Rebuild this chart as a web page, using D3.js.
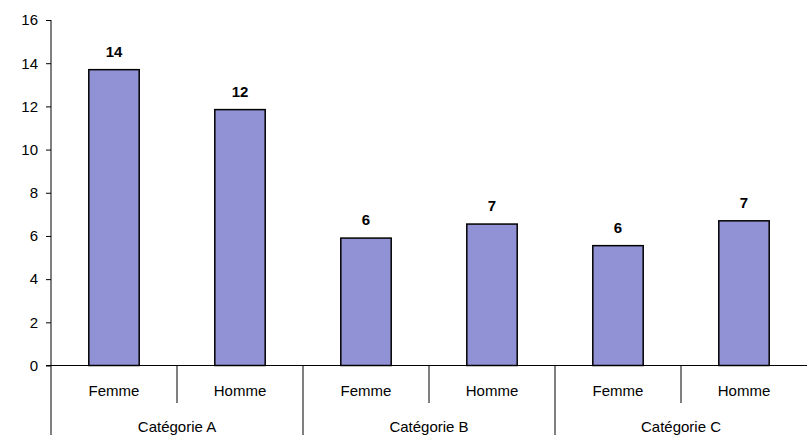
<!DOCTYPE html>
<html>
<head>
<meta charset="utf-8">
<script src="https://cdn.jsdelivr.net/npm/d3@7"></script>
<style>
  html, body { margin: 0; padding: 0; background: #fff; }
  svg { display: block; }
  text { font-family: Arial, "Liberation Sans", sans-serif; fill: #000; }
</style>
</head>
<body>
<svg id="chart" width="807" height="435"></svg>
<script>
// Groups, sub-categories and measured values
const groups = ["Catégorie A", "Catégorie B", "Catégorie C"];
const subCategories = ["Femme", "Homme"];
const values = [13.7, 11.85, 5.9, 6.55, 5.55, 6.7];
const yTicks = [0, 2, 4, 6, 8, 10, 12, 14, 16];

const W = 807, H = 435;
const plotLeft = 51, plotRight = 807, plotTop = 20, plotBottom = 365.5;
const fontSize = 15;

const svg = d3.select("#chart");

// One row per bar, built from the arrays above
const rows = [];
groups.forEach((g, gi) => subCategories.forEach((s, si) => {
  rows.push({ key: g + "|" + s, group: g, sub: s, value: values[gi * subCategories.length + si] });
}));

const x = d3.scaleBand().domain(rows.map(d => d.key)).range([plotLeft, plotRight]).padding(0);
const xg = d3.scaleBand().domain(groups).range([plotLeft, plotRight]).padding(0);
const y = d3.scaleLinear().domain([0, 16]).range([plotBottom, plotTop]);

const barW = x.bandwidth() * 0.4;

// Y axis
const yAxis = svg.append("g")
  .attr("transform", `translate(${plotLeft},0)`)
  .call(d3.axisLeft(y).tickValues(yTicks).tickSize(5).tickPadding(8).tickFormat(d3.format("d")));
yAxis.select(".domain").remove();
yAxis.selectAll(".tick line").attr("stroke", "#000");
yAxis.selectAll(".tick text").attr("font-size", fontSize).style("font-family", "Arial, 'Liberation Sans', sans-serif");

// Vertical axis line extends down through the category table
svg.append("line")
  .attr("x1", plotLeft).attr("x2", plotLeft)
  .attr("y1", y(16)).attr("y2", H)
  .attr("stroke", "#000");

// Bars
svg.append("g").selectAll("rect").data(rows).join("rect")
  .attr("x", d => x(d.key) + (x.bandwidth() - barW) / 2)
  .attr("y", d => y(d.value))
  .attr("width", barW)
  .attr("height", d => y(0) - y(d.value))
  .attr("fill", "#9191d6")
  .attr("stroke", "#000")
  .attr("stroke-width", 1.5);

// Value labels
svg.append("g").selectAll("text").data(rows).join("text")
  .attr("x", d => x(d.key) + x.bandwidth() / 2)
  .attr("y", d => y(d.value) - 13)
  .attr("text-anchor", "middle")
  .attr("font-size", fontSize)
  .attr("font-weight", "bold")
  .text(d => d3.format(".0f")(d.value));

// Baseline
svg.append("line")
  .attr("x1", plotLeft - 5).attr("x2", plotRight)
  .attr("y1", y(0)).attr("y2", y(0))
  .attr("stroke", "#000");

// Separators between sub-categories inside a group
svg.append("g").selectAll("line").data(rows.filter((d, i) => i % 2 === 1)).join("line")
  .attr("x1", d => x(d.key)).attr("x2", d => x(d.key))
  .attr("y1", y(0)).attr("y2", 403)
  .attr("stroke", "#000");

// Separators between groups
svg.append("g").selectAll("line").data(groups.slice(1)).join("line")
  .attr("x1", d => xg(d)).attr("x2", d => xg(d))
  .attr("y1", y(0)).attr("y2", H)
  .attr("stroke", "#000");

// Sub-category labels
svg.append("g").selectAll("text").data(rows).join("text")
  .attr("x", d => x(d.key) + x.bandwidth() / 2)
  .attr("y", 396)
  .attr("text-anchor", "middle")
  .attr("font-size", fontSize)
  .text(d => d.sub);

// Group labels
svg.append("g").selectAll("text").data(groups).join("text")
  .attr("x", d => xg(d) + xg.bandwidth() / 2)
  .attr("y", 432)
  .attr("text-anchor", "middle")
  .attr("font-size", fontSize)
  .text(d => d);
</script>
</body>
</html>
